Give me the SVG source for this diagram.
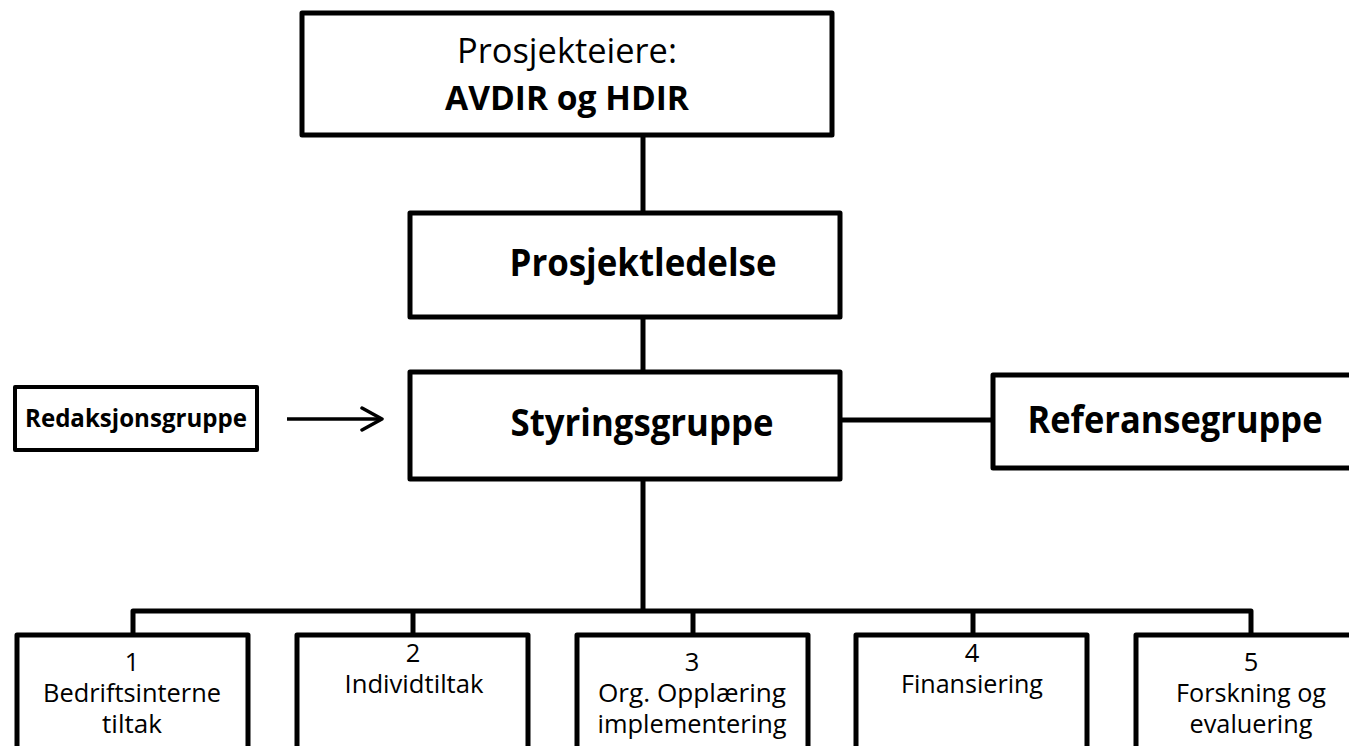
<svg xmlns="http://www.w3.org/2000/svg" width="1349" height="746" viewBox="0 0 1349 746">
<style>
.box{fill:#fff;stroke:#000;stroke-width:5;stroke-linejoin:round}
.sbox{fill:#fff;stroke:#000;stroke-width:4;stroke-linejoin:round}
.ln{fill:none;stroke:#000;stroke-width:5}
.t{font-family:"Open Sans","Liberation Sans",sans-serif;fill:#000;text-anchor:middle}
.b{font-weight:bold}
.big{font-size:37px}
.top{font-size:34px}
.mid{font-size:25.5px}
</style>
<defs>
<marker id="arr" markerWidth="26" markerHeight="28" refX="22" refY="14" orient="auto" markerUnits="userSpaceOnUse">
<path d="M2,3 L22,14 L2,25" fill="none" stroke="#000" stroke-width="3.5" stroke-linecap="round" stroke-linejoin="round"/>
</marker>
</defs>
<g id="connectors">
<line class="ln" x1="643" y1="135" x2="643" y2="213"/>
<line class="ln" x1="643" y1="317" x2="643" y2="372"/>
<line class="ln" x1="643" y1="479" x2="643" y2="611"/>
<line class="ln" x1="840" y1="420" x2="993" y2="420"/>
<path class="ln" d="M133,635 V611 H1251 V635" stroke-linejoin="round"/>
<line class="ln" x1="413" y1="611" x2="413" y2="635"/>
<line class="ln" x1="693" y1="611" x2="693" y2="635"/>
<line class="ln" x1="973" y1="611" x2="973" y2="635"/>
<line x1="287" y1="419" x2="382" y2="419" stroke="#000" stroke-width="3.5" marker-end="url(#arr)"/>
</g>
<g id="prosjekteiere">
<rect class="box" x="302" y="13" width="530" height="122"/>
<text class="t top" x="567" y="63" textLength="220" lengthAdjust="spacingAndGlyphs">Prosjekteiere:</text>
<text class="t top b" x="567" y="110" textLength="244" lengthAdjust="spacingAndGlyphs">AVDIR og HDIR</text>
</g>
<g id="prosjektledelse">
<rect class="box" x="410" y="213" width="430" height="104"/>
<text class="t big b" x="643" y="276" textLength="267" lengthAdjust="spacingAndGlyphs">Prosjektledelse</text>
</g>
<g id="styringsgruppe">
<rect class="box" x="410" y="372" width="430" height="107"/>
<text class="t big b" x="642" y="436" textLength="263" lengthAdjust="spacingAndGlyphs">Styringsgruppe</text>
</g>
<g id="redaksjonsgruppe">
<rect class="sbox" x="15" y="387" width="242" height="63"/>
<text class="t b" x="136" y="427" font-size="25.5" textLength="222" lengthAdjust="spacingAndGlyphs">Redaksjonsgruppe</text>
</g>
<g id="referansegruppe">
<rect class="box" x="993" y="375" width="370" height="93"/>
<text class="t big b" x="1175" y="433" textLength="295" lengthAdjust="spacingAndGlyphs">Referansegruppe</text>
</g>
<g id="ws1">
<rect class="box" x="17" y="635" width="231" height="130"/>
<text class="t mid" x="132" y="671">1</text>
<text class="t mid" x="132" y="702" textLength="178" lengthAdjust="spacingAndGlyphs">Bedriftsinterne</text>
<text class="t mid" x="132" y="733" textLength="60" lengthAdjust="spacingAndGlyphs">tiltak</text>
</g>
<g id="ws2">
<rect class="box" x="297" y="635" width="231" height="130"/>
<text class="t mid" x="413" y="662">2</text>
<text class="t mid" x="414" y="693" textLength="139" lengthAdjust="spacingAndGlyphs">Individtiltak</text>
</g>
<g id="ws3">
<rect class="box" x="577" y="635" width="231" height="130"/>
<text class="t mid" x="692" y="671">3</text>
<text class="t mid" x="692" y="702" textLength="188" lengthAdjust="spacingAndGlyphs">Org. Opplæring</text>
<text class="t mid" x="692" y="733" textLength="189" lengthAdjust="spacingAndGlyphs">implementering</text>
</g>
<g id="ws4">
<rect class="box" x="856" y="635" width="231" height="130"/>
<text class="t mid" x="972" y="662">4</text>
<text class="t mid" x="972" y="693" textLength="142" lengthAdjust="spacingAndGlyphs">Finansiering</text>
</g>
<g id="ws5">
<rect class="box" x="1136" y="635" width="240" height="130"/>
<text class="t mid" x="1251" y="671">5</text>
<text class="t mid" x="1251" y="702" textLength="150" lengthAdjust="spacingAndGlyphs">Forskning og</text>
<text class="t mid" x="1251" y="733" textLength="123" lengthAdjust="spacingAndGlyphs">evaluering</text>
</g>
</svg>
